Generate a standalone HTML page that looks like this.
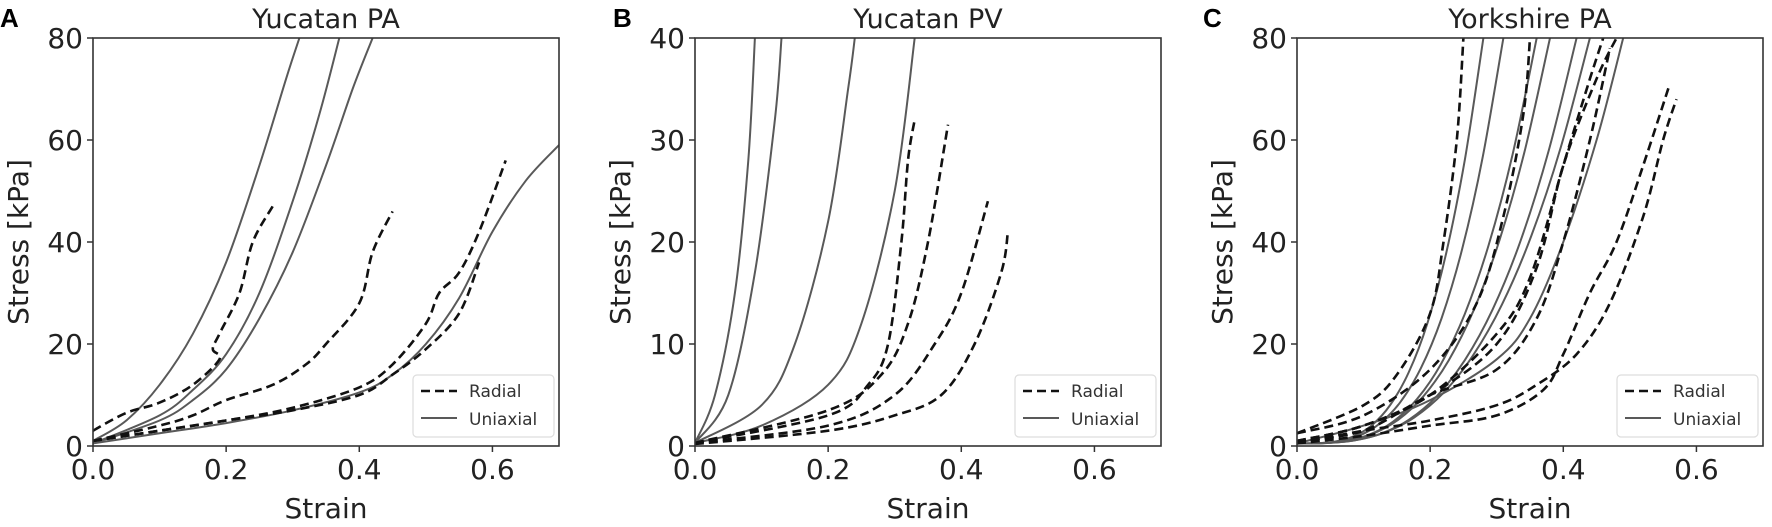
<!DOCTYPE html>
<html><head><meta charset="utf-8"><style>
html,body{margin:0;padding:0;background:#fff;}
svg{display:block;font-family:"DejaVu Sans","Liberation Sans",sans-serif;}
</style></head><body>
<svg id="s" width="1772" height="527" xmlns="http://www.w3.org/2000/svg">
<rect width="1772" height="527" fill="#fff"/>
<text x="0" y="27" font-size="26" font-weight="bold" font-family="Liberation Sans, sans-serif">A</text>
<text x="613" y="27" font-size="26" font-weight="bold" font-family="Liberation Sans, sans-serif">B</text>
<text x="1203" y="27" font-size="26" font-weight="bold" font-family="Liberation Sans, sans-serif">C</text>
</svg>
<script>
const S=document.getElementById('s');const NS="http://www.w3.org/2000/svg";
function el(t,a,txt){const e=document.createElementNS(NS,t);for(const k in a)e.setAttribute(k,a[k]);if(txt!==undefined)e.textContent=txt;S.appendChild(e);return e;}
const T=38,B=446,W=466,H=B-T;
function smooth(P){let d='M'+P[0][0].toFixed(1)+' '+P[0][1].toFixed(1);
  for(let i=0;i<P.length-1;i++){const p0=P[i-1]||P[i],p1=P[i],p2=P[i+1],p3=P[i+2]||p2;
    const c1=[p1[0]+(p2[0]-p0[0])/6,p1[1]+(p2[1]-p0[1])/6],c2=[p2[0]-(p3[0]-p1[0])/6,p2[1]-(p3[1]-p1[1])/6];
    d+=' C'+c1.map(v=>v.toFixed(1)).join(' ')+' '+c2.map(v=>v.toFixed(1)).join(' ')+' '+p2[0].toFixed(1)+' '+p2[1].toFixed(1);}
  return d;}
function panel(L,title,ymax,yticks,solids,dashes){
  const X=x=>L+x/0.7*W, Y=y=>B-y/ymax*H;
  const cpn=el('clipPath',{id:'c'+L});const cp=document.createElementNS(NS,'rect');cpn.appendChild(cp);
  cp.setAttribute('x',L);cp.setAttribute('y',T);cp.setAttribute('width',W);cp.setAttribute('height',H);
  const path=(pts,dash,col)=>{const d=smooth(pts.map(p=>[X(p[0]),Y(p[1])]));
    const a={d:d,fill:'none',stroke:col,'stroke-width':dash?2.6:2,'clip-path':'url(#c'+L+')','stroke-linejoin':'round'};if(dash)a['stroke-dasharray']='9 5';el('path',a);};
  solids.forEach(p=>path(p,false,'#595959'));
  dashes.forEach(p=>path(p,true,'#111'));
  el('rect',{x:L,y:T,width:W,height:H,fill:'none',stroke:'#333','stroke-width':1.6});
  yticks.forEach(v=>{const y=Y(v);el('line',{x1:L-6,x2:L,y1:y,y2:y,stroke:'#333','stroke-width':1.5});
    el('text',{x:L-10,y:y+10,'font-size':28,'text-anchor':'end',fill:'#222'},String(v));});
  [0,0.2,0.4,0.6].forEach(v=>{const x=X(v);el('line',{x1:x,x2:x,y1:B,y2:B+6,stroke:'#333','stroke-width':1.5});
    el('text',{x:x,y:B+33,'font-size':28,'text-anchor':'middle',fill:'#222'},v.toFixed(1));});
  el('text',{x:L+W/2,y:B+72,'font-size':28,'text-anchor':'middle',fill:'#222'},'Strain');
  el('text',{x:L+W/2,y:T-10,'font-size':27,'text-anchor':'middle',fill:'#222'},title);
  el('text',{x:0,y:0,'font-size':28,'text-anchor':'middle',fill:'#222',transform:'translate('+(L-65)+','+(T+H/2)+') rotate(-90)'},'Stress [kPa]');
  const lx=L+W-146;
  el('rect',{x:lx,y:375,width:141,height:62,rx:4,fill:'#fff',stroke:'#ddd','stroke-width':1.2});
  el('line',{x1:lx+8,x2:lx+44,y1:391,y2:391,stroke:'#111','stroke-width':2.6,'stroke-dasharray':'9 5'});
  el('line',{x1:lx+8,x2:lx+44,y1:418,y2:418,stroke:'#595959','stroke-width':2});
  el('text',{x:lx+56,y:397,'font-size':17,fill:'#333'},'Radial');
  el('text',{x:lx+56,y:425,'font-size':17,fill:'#333'},'Uniaxial');
}
panel(93,'Yucatan PA',80,[0,20,40,60,80],
[[[0,1],[0.05,5],[0.1,12],[0.15,22],[0.2,36],[0.25,55],[0.29,72],[0.31,80]],
 [[0,0.5],[0.1,6],[0.15,11],[0.2,18],[0.25,30],[0.3,48],[0.34,65],[0.37,80]],
 [[0,0.5],[0.1,5],[0.15,9],[0.2,15],[0.25,25],[0.3,38],[0.35,55],[0.39,70],[0.42,80]],
 [[0,0.5],[0.1,2.5],[0.2,4.5],[0.3,7],[0.4,10.5],[0.45,14],[0.5,20],[0.55,29],[0.6,42],[0.65,52],[0.7,59]]],
[[[0,3],[0.05,6.5],[0.1,8.5],[0.15,12],[0.19,17],[0.18,19],[0.19,22],[0.22,30],[0.24,40],[0.27,47]],
 [[0,1],[0.1,4],[0.15,6],[0.2,9],[0.27,12],[0.32,16],[0.35,20],[0.4,28],[0.42,38],[0.45,46]],
 [[0,1],[0.1,3],[0.2,5],[0.3,7.5],[0.4,11.5],[0.45,16],[0.5,24],[0.52,30],[0.55,34],[0.58,42],[0.62,56]],
 [[0,1],[0.1,3],[0.2,5],[0.3,7],[0.4,10],[0.45,14],[0.5,19],[0.55,26],[0.58,36]]]);
panel(695,'Yucatan PV',40,[0,10,20,30,40],
[[[0,0.3],[0.03,5],[0.06,15],[0.08,28],[0.09,40]],
 [[0,0.3],[0.05,5],[0.09,17],[0.12,32],[0.13,40]],
 [[0,0.3],[0.1,4],[0.15,10],[0.2,22],[0.23,35],[0.24,40]],
 [[0,0.3],[0.1,2],[0.2,6],[0.25,12],[0.3,25],[0.33,40]]],
[[[0,0.3],[0.2,3],[0.26,6],[0.29,10],[0.31,20],[0.32,28],[0.33,32]],
 [[0,0.3],[0.2,3.5],[0.28,7],[0.32,12],[0.35,20],[0.38,31.5]],
 [[0,0.3],[0.2,2],[0.3,5],[0.36,10],[0.4,15],[0.44,24]],
 [[0,0.2],[0.2,1.5],[0.3,3],[0.37,5],[0.42,10],[0.46,17],[0.47,21]]]);
function sol(e,p){const r=[];for(let i=0;i<=10;i++){const x=e*i/10;r.push([x,0.5+79.5*Math.pow(x/e,p)]);}return r;}
panel(1297,'Yorkshire PA',80,[0,20,40,60,80],
[sol(0.28,3.4),sol(0.31,3.3),sol(0.36,3.2),sol(0.38,3.1),sol(0.42,3.1),sol(0.44,3.0),
 [[0,0.5],[0.1,4],[0.2,9],[0.3,17],[0.35,25],[0.4,40],[0.45,60],[0.49,80]]],
[[[0,2.5],[0.1,8],[0.15,14],[0.2,26],[0.22,40],[0.24,60],[0.25,80]],
 [[0,2.5],[0.1,6],[0.2,15],[0.27,28],[0.31,45],[0.34,65],[0.35,80]],
 [[0,1],[0.1,4],[0.2,10],[0.3,22],[0.35,33],[0.4,55],[0.44,72],[0.46,80]],
 [[0,1],[0.1,4],[0.2,10],[0.3,20],[0.36,35],[0.4,55],[0.45,72],[0.48,80]],
 [[0,1],[0.1,3],[0.2,10],[0.3,15],[0.36,25],[0.4,40],[0.44,60],[0.47,78]],
 [[0,0.5],[0.1,2],[0.2,4],[0.3,6],[0.37,11],[0.4,18],[0.44,30],[0.48,40],[0.52,55],[0.56,71]],
 [[0,0.5],[0.1,3],[0.2,5],[0.3,8],[0.36,12],[0.42,18],[0.47,28],[0.52,45],[0.55,60],[0.57,68]]]);
</script>
</body></html>
